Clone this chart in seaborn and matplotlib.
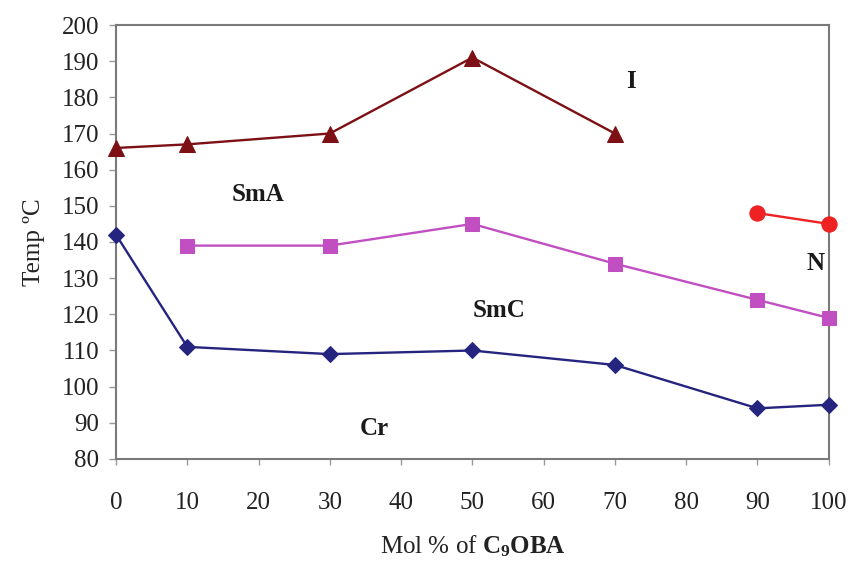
import matplotlib
matplotlib.use("Agg")
import matplotlib.pyplot as plt
import seaborn as sns

mol_i = [0, 10, 30, 50, 70]
temp_i = [166, 167, 170, 191, 170]

mol_sma = [10, 30, 50, 70, 90, 100]
temp_sma = [139, 139, 145, 134, 124, 119]

mol_cr = [0, 10, 30, 50, 70, 90, 100]
temp_cr = [142, 111, 109, 110, 106, 94, 95]

mol_n = [90, 100]
temp_n = [148, 145]

fase_nombres = ["I", "SmA", "SmC", "N", "Cr"]
fase_x = [72.2, 19.9, 53.8, 98.2, 36.2]
fase_y = [184.5, 153, 121, 134, 88.5]

sns.set_style("white")
plt.rcParams["font.family"] = ["Liberation Serif", "DejaVu Serif"]
plt.rcParams["mathtext.fontset"] = "custom"
plt.rcParams["mathtext.rm"] = "Liberation Serif"
plt.rcParams["mathtext.bf"] = "Liberation Serif:bold"

fig = plt.figure(figsize=(8.5, 5.62), dpi=100)
ax = fig.add_axes([0.1365, 0.1833, 0.8385, 0.7722])

estilo = dict(linewidth=1.7, markersize=11, legend=False, clip_on=False, zorder=3)
sns.lineplot(x=mol_i, y=temp_i, ax=ax, color="#7d1015", marker="^",
             markeredgecolor="#7d1015", **estilo)
sns.lineplot(x=mol_sma, y=temp_sma, ax=ax, color="#c24fc2", marker="s",
             markeredgecolor="#c24fc2", linewidth=1.7, markersize=10,
             legend=False, clip_on=False, zorder=3)
sns.lineplot(x=mol_cr, y=temp_cr, ax=ax, color="#25257f", marker="D",
             markeredgecolor="#25257f", linewidth=1.7, markersize=8.5,
             legend=False, clip_on=False, zorder=3)
sns.lineplot(x=mol_n, y=temp_n, ax=ax, color="#ee2222", marker="o",
             markeredgecolor="#ee2222", **estilo)

for nombre, xx, yy in zip(fase_nombres, fase_x, fase_y):
    ax.text(xx, yy, nombre, fontsize=18, fontweight="bold", ha="center",
            va="center", color="#1a1a1a")

ax.set_xlim(0, 100)
ax.set_ylim(80, 200)
ax.set_xticks(range(0, 101, 10))
ax.set_yticks(range(80, 201, 10))
ax.tick_params(axis="both", labelsize=18, colors="#9a9a9a", labelcolor="#222222",
               direction="out", length=5, width=1)
ax.tick_params(axis="x", pad=20, length=4)
ax.tick_params(axis="y", pad=7)
ax.tick_params(left=True, bottom=True)

for lado in ax.spines.values():
    lado.set_color("#7a7a7a")
    lado.set_linewidth(1.5)
    lado.set_visible(True)

ax.set_xlabel(r"Mol % of $\mathbf{C_9OBA}$", fontsize=18, color="#222222", labelpad=14)
ax.set_ylabel("Temp ºC", fontsize=18, color="#222222", labelpad=12)

plt.savefig("out.png", dpi=100)
